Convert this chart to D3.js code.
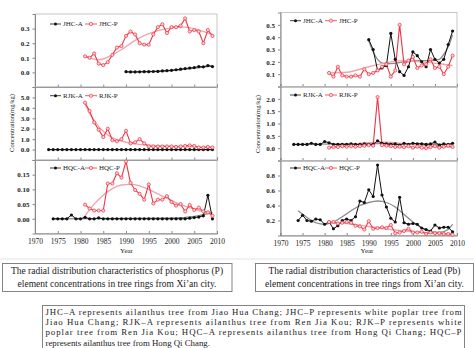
<!DOCTYPE html>
<html><head><meta charset="utf-8">
<script src="https://cdn.jsdelivr.net/npm/d3@7"></script>
<style>
body{margin:0;background:#fff}
svg{display:block}
text{font-family:"Liberation Serif","Times New Roman",serif;fill:#222}
</style>
</head><body>
<svg id="c" width="474" height="348"></svg>
<script>
// ---------- DATA ----------
const xTickYears = [1970,1975,1980,1985,1990,1995,2000,2005,2010];

// Phosphorus (P) figure
const pJhcAStart = 1990;
const pJhcA = [0.005,0.003,0.003,0.004,0.005,0.005,0.006,0.007,0.010,0.012,0.014,0.018,0.022,0.026,0.030,0.033,0.040,0.038,0.047,0.040];
const pJhcPStart = 1981;
const pJhcP = [0.11,0.10,0.13,0.06,0.05,0.07,0.12,0.17,0.18,0.25,0.28,0.26,0.20,0.19,0.19,0.26,0.31,0.33,0.27,0.31,0.31,0.32,0.37,0.28,0.29,0.28,0.20,0.29,0.25];
const pJhcAFitYears = [1990,2000,2009];
const pJhcAFit = [0.002,0.013,0.045];
const pJhcPFitYears = [1981,1984,1987,1989,1992,1995,1999,2003,2006,2009];
const pJhcPFit = [0.11,0.087,0.12,0.155,0.22,0.265,0.30,0.31,0.29,0.26];

const pRjkAStart = 1973;
const pRjkA = [0,0,0,0,0,0,0,0,0,0,0,0,0,0,0,0,0,0,0,0,0,0,0,0,0,0,0,0,0,0,0,0,0,0,0,0,0];
const pRjkPStart = 1981;
const pRjkP = [4.5,3.7,2.6,1.9,1.2,2.0,0.9,0.8,1.0,1.8,0.6,0.7,1.0,0.6,0.3,0.3,0.3,0.3,0.3,0.3,0.25,0.3,0.35,0.4,0.35,0.2,0.2,0.25,0.2];
const pRjkAFitYears = [1973,2009];
const pRjkAFit = [0,0];
const pRjkPFitYears = [1981,1982,1983,1984,1985,1986,1987,1988,1990,1992,1995,2000,2005,2009];
const pRjkPFit = [4.4,3.5,2.8,2.2,1.75,1.4,1.15,0.95,0.7,0.55,0.42,0.32,0.26,0.22];

const pHqcAStart = 1974;
const pHqcA = [0,0,0,0,0.013,0,0,0.005,0,0,0.003,0,0,0,0,0,0,0,0,0,0,0,0,0,0,0,0,0,0,0,0.002,0.004,0.006,0.010,0.080,0.0];
const pHqcPStart = 1981;
const pHqcP = [0.048,0.035,0.028,0.028,0.028,0.12,0.12,0.155,0.14,0.195,0.122,0.098,0.085,0.065,0.117,0.052,0.065,0.065,0.077,0.057,0.045,0.05,0.025,0.047,0.03,0.038,0.025,0.022,0.01];
const pHqcAFitYears = [1974,2000,2005,2009];
const pHqcAFit = [0,0.002,0.008,0.022];
const pHqcPFitYears = [1981,1983,1985,1987,1989,1991,1993,1995,1997,1999,2001,2003,2005,2007,2009];
const pHqcPFit = [0.01,0.05,0.08,0.103,0.115,0.117,0.112,0.10,0.085,0.07,0.055,0.043,0.033,0.025,0.02];

// Lead (Pb) figure
const pbJhcAStart = 1990;
const pbJhcA = [0.38,0.30,0.13,0.15,0.17,0.43,0.22,0.12,0.09,0.16,0.28,0.25,0.20,0.16,0.30,0.22,0.19,0.22,0.34,0.45];
const pbJhcPStart = 1981;
const pbJhcP = [0.11,0.08,0.16,0.09,0.08,0.08,0.09,0.08,0.14,0.10,0.11,0.13,0.16,0.18,0.08,0.13,0.50,0.18,0.21,0.24,0.15,0.17,0.18,0.22,0.15,0.16,0.10,0.16,0.25];
const pbJhcAFitYears = [1990,1991,1992,1993,1995,1998,2001,2004,2006,2007,2008,2009];
const pbJhcAFit = [0.37,0.28,0.22,0.19,0.185,0.20,0.21,0.21,0.22,0.26,0.32,0.42];
const pbJhcPFitYears = [1981,1985,1990,1995,1998,2002,2006,2009];
const pbJhcPFit = [0.11,0.115,0.16,0.20,0.21,0.20,0.185,0.17];

const pbRjkAStart = 1973;
const pbRjkA = [0.15,0.15,0.15,0.15,0.2,0.15,0.15,0.27,0.22,0.15,0.15,0.15,0.15,0.17,0.15,0.15,0.17,0.15,0.15,0.3,0.2,0.17,0.15,0.17,0.12,0.2,0.15,0.2,0.18,0.18,0.15,0.17,0.25,0.12,0.17,0.15,0.2];
const pbRjkPStart = 1981;
const pbRjkP = [0.02,0.05,0.05,0.08,0.06,0.08,0.06,0.08,0.1,0.12,0.1,2.07,0.12,0.1,0.08,0.05,0.06,0.04,0.08,0.02,0.06,0.02,0.0,0.04,0.08,0.02,0.06,0.1,0.05];
const pbRjkAFitYears = [1973,1985,1992,2000,2009];
const pbRjkAFit = [0.15,0.17,0.19,0.17,0.15];
const pbRjkPFitYears = [1981,1986,1991,1994,1998,2003,2009];
const pbRjkPFit = [0.03,0.15,0.23,0.24,0.18,0.10,0.05];

const pbHqcAStart = 1974;
const pbHqcA = [0.2,0.27,0.2,0.19,0.22,0.21,0.15,0.18,0.09,0.13,0.2,0.22,0.2,0.25,0.46,0.44,0.61,0.52,0.94,0.54,0.38,0.23,0.18,0.51,0.17,0.15,0.16,0.15,0.1,0.08,0.06,0.14,0.1,0.11,0.11,0.05];
const pbHqcPStart = 1981;
const pbHqcP = [0.18,0.18,0.16,0.17,0.18,0.17,0.13,0.12,0.08,0.19,0.09,0.1,0.11,0.1,0.14,0.03,0.04,0.06,0.09,0.04,0.04,0.05,0.02,0.04,0.03,0.03,0.02,0.02,0.01];
const pbHqcAFitYears = [1974,1976,1978,1980,1982,1984,1986,1988,1990,1992,1994,1996,1998,2000,2002,2004,2006,2008,2009];
const pbHqcAFit = [0.33,0.24,0.17,0.15,0.18,0.25,0.33,0.40,0.44,0.46,0.44,0.38,0.28,0.18,0.10,0.05,0.04,0.08,0.15];
const pbHqcPFitYears = [1981,1985,1990,1995,2000,2005,2009];
const pbHqcPFit = [0.17,0.16,0.12,0.08,0.05,0.03,0.02];

const legendNames = [["JHC-A","JHC-P"],["RJK-A","RJK-P"],["HQC-A","HQC-P"]];
const captionP = ["The radial distribution characteristics of phosphorus (P)","element concentrations in tree rings from Xi’an city."];
const captionPb = ["The radial distribution characteristics of Lead (Pb)","element concentrations in tree rings from Xi’an city."];
const noteLines = [
 "JHC–A represents ailanthus tree from Jiao Hua Chang; JHC–P represents white poplar tree from",
 "Jiao Hua Chang; RJK–A represents ailanthus tree from Ren Jia Kou; RJK–P represents white",
 "poplar tree from Ren Jia Kou; HQC–A represents ailanthus tree from Hong Qi Chang; HQC–P",
 "represents ailanthus tree from Hong Qi Chang."
];

// ---------- DRAW ----------
const RED = "#ec3444", PINKFIT = "#f4a3ab", BLACK = "#111", GRAYFIT = "#8a8a8a";
const svg = d3.select("#c");

function series(start, vals){ return vals.map((v,i)=>[start+i, v]); }
function pairs(ys, vs){ return ys.map((y,i)=>[y, vs[i]]); }

function drawPanel(o){
  const x = o.x, y = d3.scaleLinear().domain(o.domain).range([o.y1, o.y0]);
  const g = svg.append("g");
  g.append("rect").attr("x", x.range()[0]).attr("y", o.y0)
   .attr("width", x.range()[1]-x.range()[0]).attr("height", o.y1-o.y0)
   .attr("fill","none").attr("stroke","#b8b8b8").attr("stroke-width",0.8);
  const ya = g.append("g").attr("transform",`translate(${x.range()[0]},0)`)
    .call(d3.axisLeft(y).tickValues(o.yTicks).tickFormat(d3.format(o.fmt)).tickSize(2.5).tickPadding(3));
  ya.select(".domain").attr("stroke","#888");
  ya.selectAll(".tick line").attr("stroke","#888");
  ya.selectAll("text").style("font-size","7px").attr("fill","#333").style("font-weight","bold");
  const xa = g.append("g").attr("transform",`translate(0,${o.y1})`)
    .call(d3.axisBottom(x).tickValues(xTickYears).tickSize(-2.5).tickPadding(5).tickFormat(o.showX ? d3.format("d") : ""));
  xa.select(".domain").attr("stroke","#888");
  xa.selectAll(".tick line").attr("stroke","#888");
  xa.selectAll("text").style("font-size","7.5px").attr("fill","#333");

  const line = d3.line().x(d=>x(d[0])).y(d=>y(d[1]));
  const smooth = d3.line().x(d=>x(d[0])).y(d=>y(d[1])).curve(d3.curveMonotoneX);
  g.append("path").datum(o.aFit).attr("d",smooth).attr("fill","none").attr("stroke",GRAYFIT).attr("stroke-width",1.3);
  g.append("path").datum(o.pFit).attr("d",smooth).attr("fill","none").attr("stroke",PINKFIT).attr("stroke-width",1.4);
  g.append("path").datum(o.a).attr("d",line).attr("fill","none").attr("stroke",BLACK).attr("stroke-width",1);
  g.append("path").datum(o.p).attr("d",line).attr("fill","none").attr("stroke",RED).attr("stroke-width",1.1);
  g.selectAll(".ma").data(o.a).join("circle").attr("cx",d=>x(d[0])).attr("cy",d=>y(d[1])).attr("r",1.6).attr("fill",BLACK);
  g.selectAll(".mp").data(o.p).join("circle").attr("cx",d=>x(d[0])).attr("cy",d=>y(d[1])).attr("r",1.6)
    .attr("fill","#fbd0d4").attr("stroke",RED).attr("stroke-width",0.7);
  const L = o.leg, ly = o.y0 + L.dy, lx = x.range()[0];
  g.append("line").attr("x1",lx+L.a0).attr("x2",lx+L.a0+11).attr("y1",ly).attr("y2",ly).attr("stroke",BLACK).attr("stroke-width",0.8);
  g.append("circle").attr("cx",lx+L.a0+5.5).attr("cy",ly).attr("r",1.5).attr("fill",BLACK);
  g.append("text").attr("x",lx+L.a0+13).attr("y",ly+2.3).text(o.names[0]).style("font-size","7px");
  g.append("line").attr("x1",lx+L.p0).attr("x2",lx+L.p0+12).attr("y1",ly).attr("y2",ly).attr("stroke",RED).attr("stroke-width",0.8);
  g.append("circle").attr("cx",lx+L.p0+6).attr("cy",ly).attr("r",1.7).attr("fill","#fbd0d4").attr("stroke",RED).attr("stroke-width",0.6);
  g.append("text").attr("x",lx+L.p0+14).attr("y",ly+2.3).text(o.names[1]).style("font-size","7px");
}

const xL = d3.scaleLinear().domain([1970,2010]).range([35,217]);
const xR = d3.scaleLinear().domain([1970,2010]).range([280.5,457]);
const legL = {a0:15, p0:50}, legR = {a0:9.5, p0:44.5};

drawPanel({x:xL, y0:14, y1:87, domain:[-0.1,0.4], yTicks:[0,0.1,0.2,0.3], fmt:".1f",
  a:series(pJhcAStart,pJhcA), p:series(pJhcPStart,pJhcP),
  aFit:pairs(pJhcAFitYears,pJhcAFit), pFit:pairs(pJhcPFitYears,pJhcPFit),
  names:legendNames[0], leg:{...legL, dy:10}});
drawPanel({x:xL, y0:87, y1:160, domain:[-1,6], yTicks:[0,1,2,3,4,5], fmt:".1f",
  a:series(pRjkAStart,pRjkA), p:series(pRjkPStart,pRjkP),
  aFit:pairs(pRjkAFitYears,pRjkAFit), pFit:pairs(pRjkPFitYears,pRjkPFit),
  names:legendNames[1], leg:{...legL, dy:8.7}});
drawPanel({x:xL, y0:160, y1:233.5, domain:[-0.05,0.2], yTicks:[0,0.05,0.1,0.15], fmt:".2f", showX:true,
  a:series(pHqcAStart,pHqcA), p:series(pHqcPStart,pHqcP),
  aFit:pairs(pHqcAFitYears,pHqcAFit), pFit:pairs(pHqcPFitYears,pHqcPFit),
  names:legendNames[2], leg:{...legL, dy:8}});

drawPanel({x:xR, y0:12.5, y1:86.5, domain:[0,0.6], yTicks:[0.1,0.2,0.3,0.4,0.5], fmt:".1f",
  a:series(pbJhcAStart,pbJhcA), p:series(pbJhcPStart,pbJhcP),
  aFit:pairs(pbJhcAFitYears,pbJhcAFit), pFit:pairs(pbJhcPFitYears,pbJhcPFit),
  names:legendNames[0], leg:{...legR, dy:8.2}});
drawPanel({x:xR, y0:86.5, y1:160.5, domain:[-0.5,2.5], yTicks:[0,0.5,1,1.5,2], fmt:".1f",
  a:series(pbRjkAStart,pbRjkA), p:series(pbRjkPStart,pbRjkP),
  aFit:pairs(pbRjkAFitYears,pbRjkAFit), pFit:pairs(pbRjkPFitYears,pbRjkPFit),
  names:legendNames[1], leg:{...legR, dy:8.5}});
drawPanel({x:xR, y0:160.5, y1:235.5, domain:[0,1], yTicks:[0.2,0.4,0.6,0.8], fmt:".1f", showX:true,
  a:series(pbHqcAStart,pbHqcA), p:series(pbHqcPStart,pbHqcP),
  aFit:pairs(pbHqcAFitYears,pbHqcAFit), pFit:pairs(pbHqcPFitYears,pbHqcPFit),
  names:legendNames[2], leg:{...legR, dy:7.5}});

svg.append("text").attr("transform","translate(14,123) rotate(-90)").attr("text-anchor","middle").style("font-size","6.5px").text("Concentration(mg/kg)");
svg.append("text").attr("transform","translate(260,124) rotate(-90)").attr("text-anchor","middle").style("font-size","6.5px").text("Concentration(mg/kg)");
svg.append("text").attr("x",126.5).attr("y",252.5).attr("text-anchor","middle").style("font-size","7px").text("Year");
svg.append("text").attr("x",367).attr("y",253).attr("text-anchor","middle").style("font-size","7px").text("Year");

svg.append("line").attr("x1",0).attr("x2",474).attr("y1",259).attr("y2",259).attr("stroke","#e4e4e4").attr("stroke-width",1);

function box(x,y,w,h){ svg.append("rect").attr("x",x).attr("y",y).attr("width",w).attr("height",h).attr("fill","#fff").attr("stroke","#777").attr("stroke-width",0.9); }
box(2.5,263.5,229.5,28);
box(255.5,263.5,218,28);
captionP.forEach((t,i)=>svg.append("text").attr("x",117).attr("y",274+i*12.5).attr("text-anchor","middle").style("font-size","9.5px").text(t));
captionPb.forEach((t,i)=>svg.append("text").attr("x",364.5).attr("y",274+i*12.5).attr("text-anchor","middle").style("font-size","9.5px").text(t));
box(42.5,305.5,422,45);
const noteY = [314.6, 324.9, 335.2, 345.5];
noteLines.forEach((t,i)=>{
  const tx = svg.append("text").attr("x",45.5).attr("y",noteY[i]).style("font-size","8.8px").text(t);
  if(i<noteLines.length-1) tx.attr("textLength",416).attr("lengthAdjust","spacing");
});
</script>
</body></html>
